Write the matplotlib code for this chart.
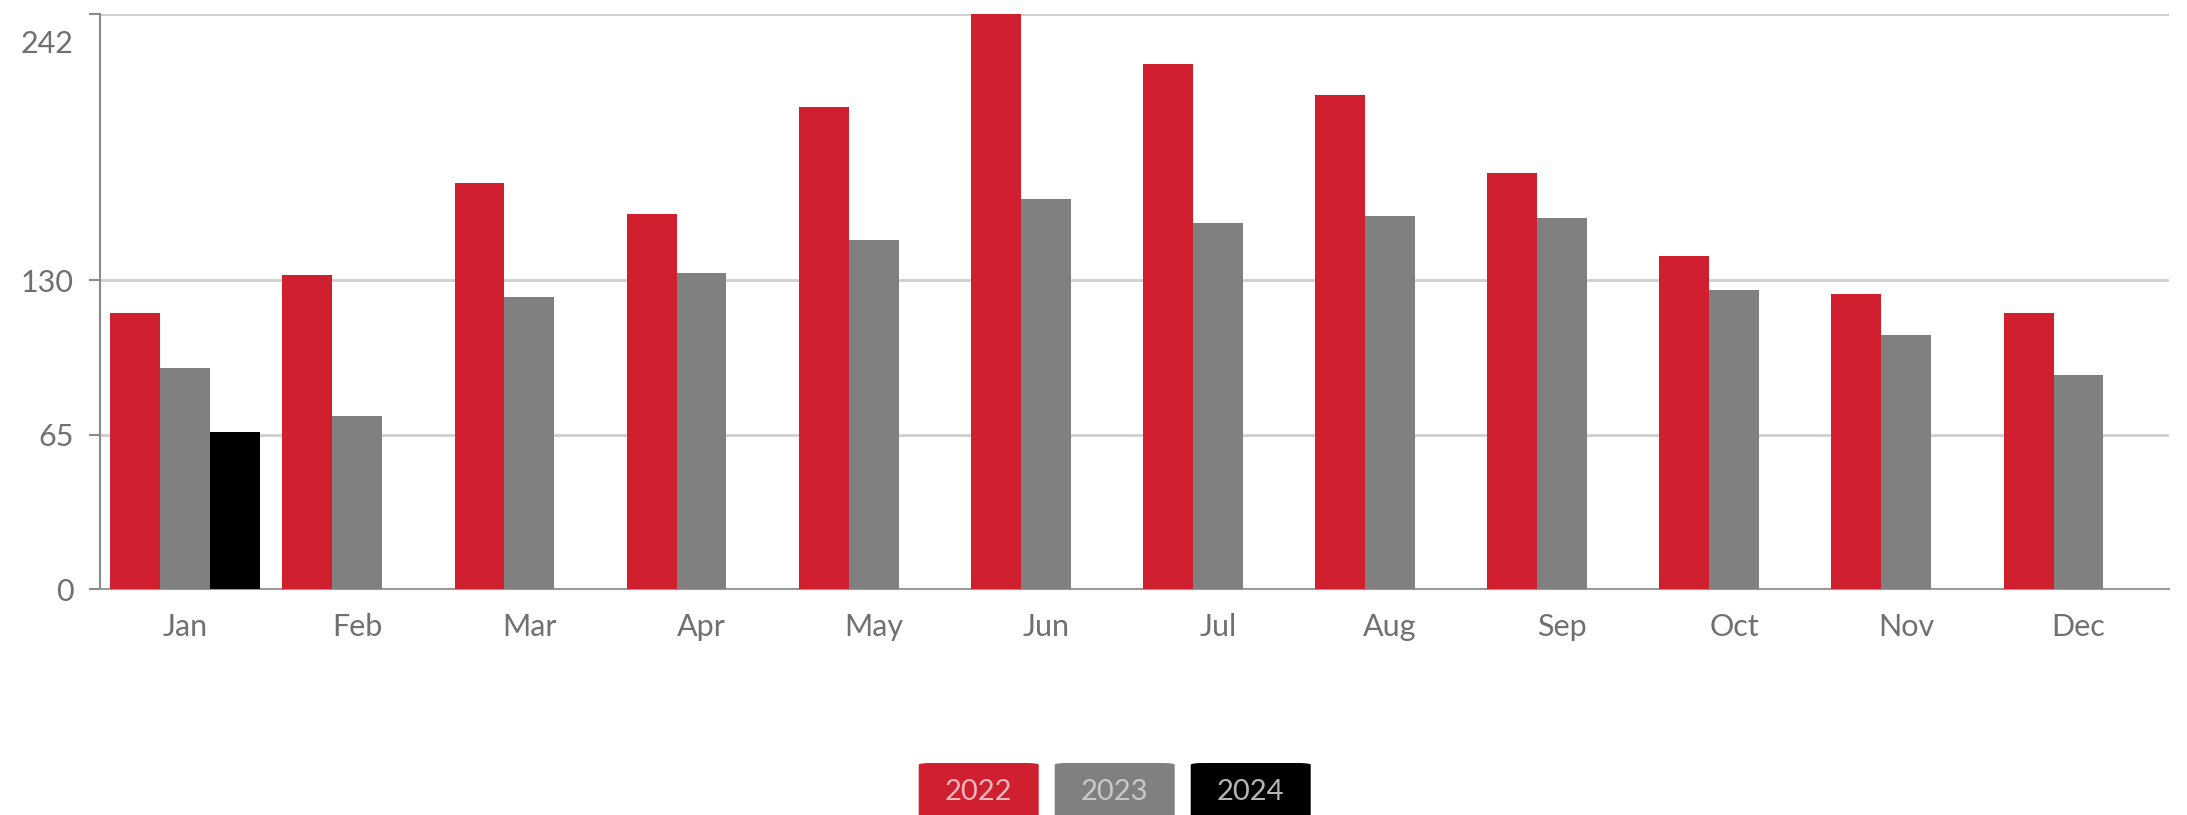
import matplotlib.pyplot as plt
import matplotlib.transforms as mtransforms
from matplotlib.patches import FancyBboxPatch
import numpy as np

plt.rcParams["font.family"] = ["Lato", "DejaVu Sans"]

# Data
months = ["Jan", "Feb", "Mar", "Apr", "May", "Jun",
          "Jul", "Aug", "Sep", "Oct", "Nov", "Dec"]
vals_2022 = [116, 132, 171, 158, 203, 242, 221, 208, 175, 140, 124, 116]
vals_2023 = [93, 73, 123, 133, 147, 164, 154, 157, 156, 126, 107, 90]
vals_2024 = [66]
years = ["2022", "2023", "2024"]
yticks = [0, 65, 130, 242]

colors = {"2022": "#d01f2e", "2023": "#808080", "2024": "#000000"}
text_colors = {"2022": "#f3b7bc", "2023": "#c9c9c9", "2024": "#b5b5b5"}

fig = plt.figure(figsize=(21.87, 8.15), dpi=100)
ax = fig.add_axes([0.0457, 0.2773, 0.946, 0.7055])

x = np.arange(len(months))
width = 0.29
series = [vals_2022, vals_2023, vals_2024]
for i, (yr, vals) in enumerate(zip(years, series)):
    offset = (i - 1) * width
    xs = x[:len(vals)] + offset
    ax.bar(xs, vals, width, color=colors[yr], zorder=3)

ax.set_xlim(-0.495, 11.525)
ax.set_ylim(0, 242)
ax.set_yticks(yticks)
ax.set_xticks(x, months)
ax.grid(axis="y", color="#cfcfcf", linewidth=2, zorder=0)

for side in ["top", "right"]:
    ax.spines[side].set_visible(False)
ax.spines["left"].set_color("#8a8a8a")
ax.spines["left"].set_linewidth(1.5)
ax.spines["bottom"].set_color("#9a9a9a")
ax.spines["bottom"].set_linewidth(1.5)

ax.tick_params(axis="y", length=8, width=1.5, color="#8a8a8a",
               labelsize=22, labelcolor="#707070", pad=11)
ax.tick_params(axis="x", length=0, labelsize=22, labelcolor="#707070", pad=17)

# the top label sits a bit below its gridline
top_lbl = ax.get_yticklabels()[-1]
top_lbl.set_transform(top_lbl.get_transform() +
                      mtransforms.ScaledTranslation(0, -0.27, fig.dpi_scale_trans))

# legend chips at the bottom
chip_w, chip_h = 120 / 2187, 52 / 815
gap = 16 / 2187
x0 = 0.5097 - (3 * chip_w + 2 * gap) / 2
for i, yr in enumerate(years):
    cx = x0 + i * (chip_w + gap)
    patch = FancyBboxPatch((cx, -0.02), chip_w, chip_h + 0.02,
                           boxstyle="round,pad=0,rounding_size=0.006",
                           transform=fig.transFigure, facecolor=colors[yr],
                           edgecolor="none", mutation_aspect=815 / 2187)
    fig.patches.append(patch)
    fig.text(cx + chip_w / 2, 0.028, yr, ha="center", va="center",
             fontsize=21, color=text_colors[yr])

fig.savefig("out.png", dpi=100)
